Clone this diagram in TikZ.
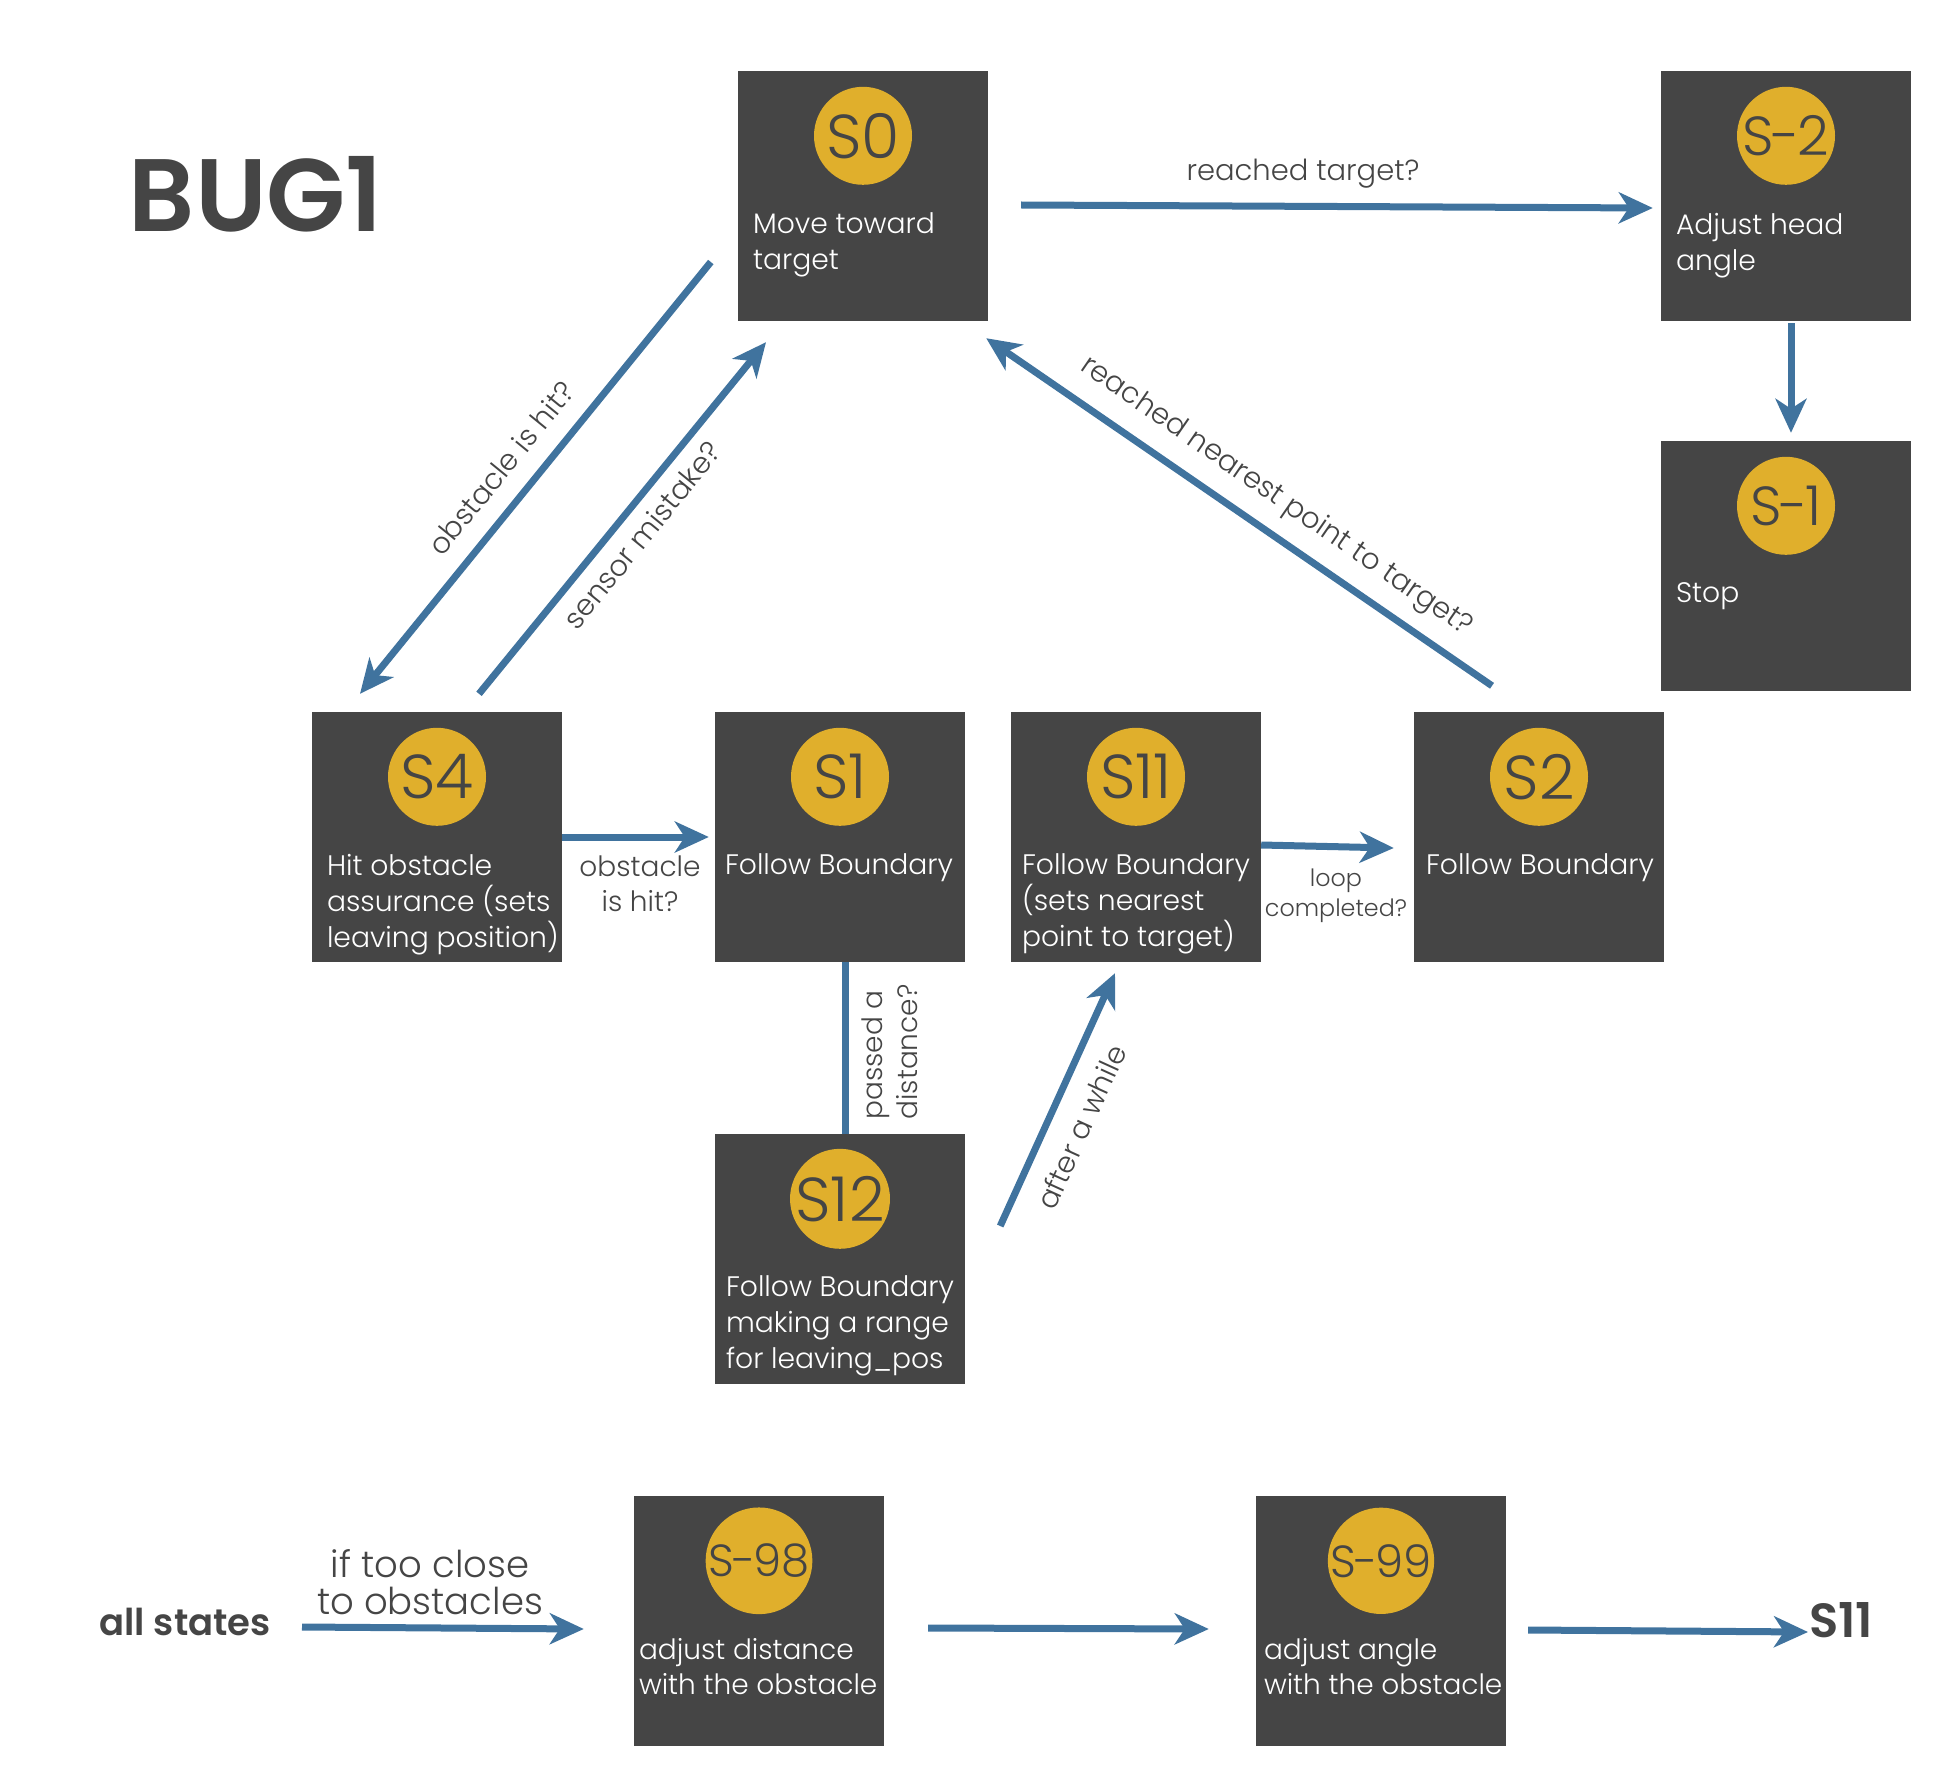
\documentclass[tikz,border=0pt]{standalone}
\usepackage{fontspec}
\setmainfont{Poppins}[UprightFont=* Light, BoldFont=* SemiBold]
\usetikzlibrary{arrows.meta,calc}
\definecolor{boxgray}{HTML}{454545}
\definecolor{gold}{HTML}{E0AF2C}
\definecolor{arrowblue}{HTML}{40739E}
\definecolor{labelgray}{HTML}{454545}
\newcommand{\hy}{\kern-2.5pt-\kern-2.5pt}
\newcommand{\hys}{\kern-2pt-\kern-2pt}
\tikzset{
  box/.style={fill=boxgray, minimum width=250pt, minimum height=250pt, inner sep=0pt, draw=none},
  circ/.style={circle, fill=gold, minimum size=98pt, inner sep=0pt, text=boxgray, font=\fontsize{62}{62}\selectfont},
  midcirc/.style={circ, font=\fontsize{55}{55}\selectfont},
  smallcirc/.style={circ, font=\fontsize{45}{45}\selectfont},
  btext/.style={anchor=north west, inner sep=0pt, align=left, text=white, font=\fontsize{28.2}{36}\selectfont},
  stext/.style={btext, font=\fontsize{28}{35}\selectfont},
  lbl/.style={text=labelgray, inner sep=0pt, font=\fontsize{29}{35}\selectfont},
  arr/.style={line width=7pt, draw=arrowblue, -{Stealth[length=34pt,width=31pt,inset=10pt]}},
  plain/.style={line width=7pt, draw=arrowblue}
}
\begin{document}
\begin{tikzpicture}[x=1pt,y=-1pt]
\useasboundingbox (0,0) rectangle (1960,1771);
% title
\node[text=labelgray, font=\fontsize{103}{103}\selectfont\bfseries] (title) at (256,194) {BUG1};
% boxes
\node[box] (s0) at (863,196) {};
\node[box] (sm2) at (1786,196) {};
\node[box] (sm1) at (1786,566) {};
\node[box] (s4) at (437,837) {};
\node[box] (s1) at (840,837) {};
\node[box] (s11) at (1136,837) {};
\node[box] (s2) at (1539,837) {};
\node[box] (s12) at (840,1259) {};
\node[box] (s98) at (759,1621) {};
\node[box] (s99) at (1381,1621) {};
% circles
\node[circ] (c0) at ($(s0.north)+(0,65)$) {S0};
\node[midcirc] (cm2) at ($(sm2.north)+(0,65)$) {S\hy2};
\node[midcirc] (cm1) at ($(sm1.north)+(0,65)$) {S\hy1};
\node[circ] (c4) at ($(s4.north)+(0,65)$) {S4};
\node[circ] (c1) at ($(s1.north)+(0,65)$) {S1};
\node[circ] (c11) at ($(s11.north)+(0,65)$) {S11};
\node[circ] (c2) at ($(s2.north)+(0,65)$) {S2};
\node[circ] (c12) at ($(s12.north)+(0,65)$) {S12};
\node[smallcirc] (c98) at ($(s98.north)+(0,65)$) {S\hys98};
\node[smallcirc] (c99) at ($(s99.north)+(0,65)$) {S\hys99};
% box texts
\node[btext] (t0) at ($(s0.north west)+(15,142)$) {Move toward\\target};
\node[btext] (tm2) at ($(sm2.north west)+(15,142)$) {Adjust head\\angle};
\node[btext] (tm1) at ($(sm1.north west)+(15,142)$) {Stop};
\node[btext] (t4) at ($(s4.north west)+(15,142)$) {Hit obstacle\\assurance (sets\\leaving position)};
\node[btext] (t1) at ($(s1.north west)+(10,142)$) {Follow Boundary};
\node[btext] (t11) at ($(s11.north west)+(11,142)$) {Follow Boundary\\(sets nearest\\point to target)};
\node[btext] (t2) at ($(s2.north west)+(12,142)$) {Follow Boundary};
\node[btext] (t12) at ($(s12.north west)+(11,142)$) {Follow Boundary\\making a range\\for leaving\_pos};
\node[stext] (t98) at ($(s98.north west)+(5,142)$) {adjust distance\\with the obstacle};
\node[stext] (t99) at ($(s99.north west)+(8,142)$) {adjust angle\\with the obstacle};
% free texts
\node[text=labelgray, anchor=east, inner sep=0pt, font=\fontsize{37}{37}\selectfont\bfseries] (all) at (271,1622) {all states};
\node[text=labelgray, anchor=west, inner sep=0pt, font=\fontsize{48}{48}\selectfont\bfseries] (s11b) at (1809,1620) {S11};
% arrows
\draw[arr] ($(s0.east)+(33,9)$) -- ($(sm2.west)+(-8,12)$);
\draw[arr] ($(sm2.south)+(5,2)$) -- ($(sm1.north)+(5,-8)$);
\draw[arr] ($(s0.west)+(-27,66)$) -- ($(s4.north)+(-77,-18)$);
\draw[arr] ($(s4.north)+(42,-18)$) -- ($(s0.south)+(-97,21)$);
\draw[arr] ($(s2.north)+(-47,-26)$) -- ($(s0.south east)+(-2,17)$);
\draw[arr, shorten >=6pt] (s4.east) -- (s1.west);
\draw[plain] ($(s1.south)+(5,0)$) -- ($(s12.north)+(5,0)$);
\draw[arr] ($(s12.east)+(35,-33)$) -- ($(s11.south)+(-21,11)$);
\draw[arr] ($(s11.east)+(0,8)$) -- ($(s2.west)+(-20,11)$);
\draw[arr] ($(all.east)+(31,5)$) -- ($(s98.west)+(-50,8)$);
\draw[arr] ($(s98.east)+(44,7)$) -- ($(s99.west)+(-47,8)$);
\draw[arr] ($(s99.east)+(22,9)$) -- ($(s11b.west)+(-1,12)$);
% labels
\node[lbl] (l1) at (1303,174) {reached target?};
\node[lbl, rotate=50.8] (l3) at (501,468) {obstacle is hit?};
\node[lbl, rotate=50.8] (l4) at (642,535) {sensor mistake?};
\node[lbl, rotate=-34.6] (l5) at (1276,497) {reached nearest point to target?};
\node[lbl, align=center, font=\fontsize{28}{35}\selectfont] (l6) at (640,884) {obstacle\\is hit?};
\node[lbl, align=left, rotate=90, font=\fontsize{28}{35}\selectfont] (l7) at (890,1052) {passed a\\distance?};
\node[lbl, rotate=65.5] (l8) at (1081,1127) {after a while};
\node[lbl, align=center, font=\fontsize{23.8}{30}\selectfont] (l9) at (1336,896) {loop\\completed?};
\node[lbl, align=center, font=\fontsize{37}{37}\selectfont] (l10) at (430,1582) {if too close\\to obstacles};
\end{tikzpicture}
\end{document}
